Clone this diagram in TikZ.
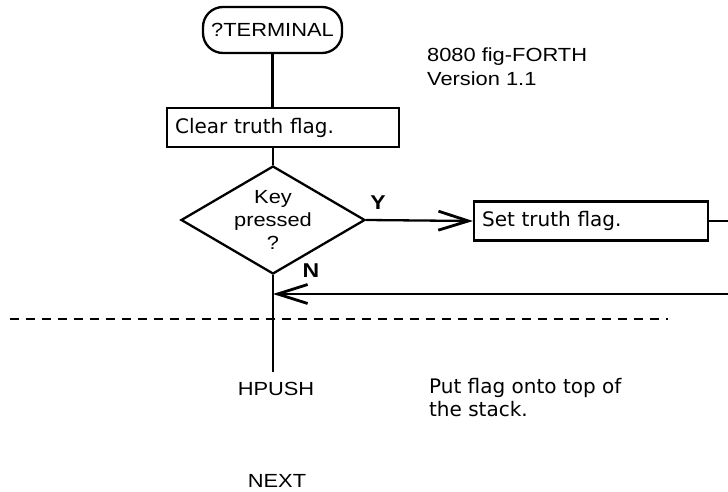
\documentclass[tikz,border=0pt]{standalone}
\usepackage{fontspec}
\setmainfont{Liberation Sans}[FakeStretch=1.15]
\newfontfamily\remarkfont{DejaVu Sans}
\usetikzlibrary{arrows.meta}
\usetikzlibrary{shapes.geometric, math}

\begin{document}
\begin{tikzpicture}[x=1pt, y=-1pt, line width=2.3pt,
  word/.style={font=\fontsize{19}{23}\selectfont, inner sep=0pt},
  remark/.style={font=\remarkfont\fontsize{20}{23}\selectfont, inner sep=0pt, align=left},
  flagbox/.style={draw, remark, anchor=west, minimum height=39pt, inner xsep=8pt},
  yn/.style={font=\bfseries\fontsize{20}{20}\selectfont, inner sep=0pt},
  vee/.style={-{Straight Barb[length=30pt, width=19pt, line width=2.8pt]}}]
\tikzmath{
\R=728;
\B=492;
}
\useasboundingbox (0,0) rectangle (\R,\B);

\node (term) [draw, word, rounded corners=20pt, minimum width=139pt, minimum height=46pt] at (272.5,30) {?TERMINAL};
\node (title) [word, anchor=west, align=left, font=\fontsize{19}{24}\selectfont] at (426,67) {8080 fig-FORTH\\Version 1.1};

\node (clear) [flagbox, text width=216pt] at (166,127.5) {Clear truth flag.};
\node (dia) [draw, word, diamond, aspect=1.7, minimum width=184pt, minimum height=108pt, align=center] at (273,220) {Key\\pressed\\?};
\node (set) [flagbox, text width=218pt] at (473,221) {Set truth flag.};

\node (yes) [yn] at (378,203) {Y};
\node (no) [yn] at (311,271) {N};

\coordinate (rt) at (\R,294);
\coordinate (dl) at (10,319);
\coordinate (dr) at (668,319);

\node (hpush) [word, inner sep=9pt] at (276,388.5) {HPUSH};
\node (put) [remark, anchor=west] at (428,398) {Put flag onto top of\\the stack.};
\node (next) [word] at (277,480.5) {NEXT};

\draw (term.south) -- (term.south |- clear.north);
\draw (dia.north |- clear.south) -- (dia.north);
\draw[vee] (dia.east) -- (set.west);
\draw (set.east) -- (set.east -| rt);
\draw[vee] (rt) -- (rt -| dia.south);
\draw (dia.south) -- (dia.south |- hpush.north);
\draw[dash pattern=on 9pt off 7pt] (dl) -- (dr);

\end{tikzpicture}
\end{document}
